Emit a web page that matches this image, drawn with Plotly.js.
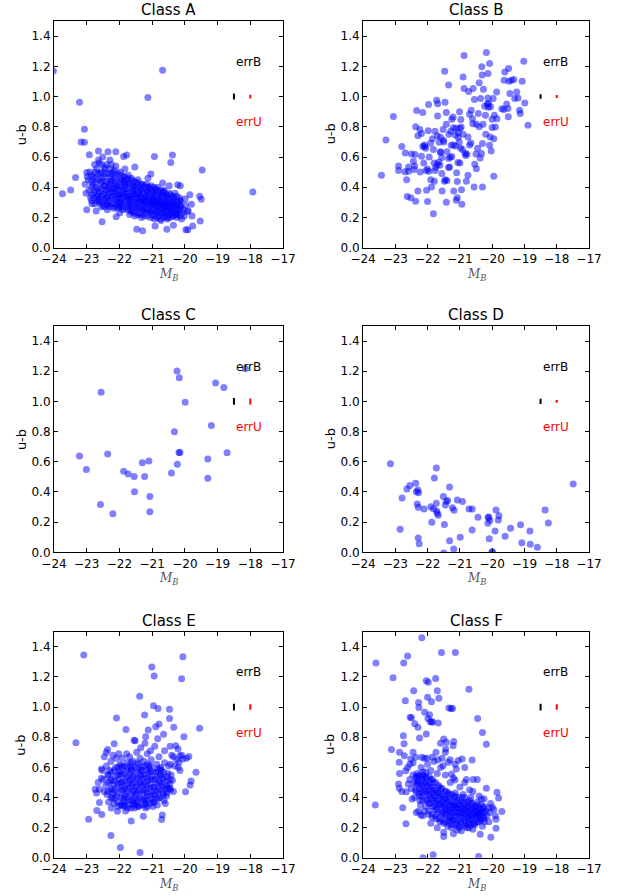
<html>
<head>
<script src="https://cdn.plot.ly/plotly-3.0.1.min.js"></script>
</head>
<body style="margin:0">
<div id="chart"></div>
<script>
// u-b colour versus absolute B magnitude for six classes of galaxies
var classNames = ['Class A', 'Class B', 'Class C', 'Class D', 'Class E', 'Class F'];

// typical error bars drawn at the upper right of each panel
var errB = [0.020, 0.015, 0.022, 0.017, 0.022, 0.022];
var errU = [0.012, 0.010, 0.020, 0.009, 0.018, 0.018];
var errBx = -18.5, errUx = -18.0, errY = 1.0;

var classA = [
  [-24.02,1.17],[-20.68,1.175],[-21.13,0.994],[-23.22,0.963],[-23.07,0.783],[-23.17,0.70],[-23.07,0.697],
  [-23.74,0.357],[-23.49,0.381],[-23.34,0.465],[-23.0,0.498],[-22.92,0.615],[-22.64,0.64],[-23.0,0.25],
  [-22.71,0.243],[-22.53,0.172],[-22.10,0.205],[-21.47,0.121],[-21.29,0.112],[-20.91,0.143],[-20.55,0.121],
  [-20.35,0.148],[-19.97,0.119],[-19.91,0.119],[-19.76,0.143],[-19.53,0.176],[-19.9,0.245],[-19.78,0.21],
  [-19.55,0.34],[-19.5,0.32],[-19.47,0.514],[-17.92,0.368],[-20.93,0.604],[-20.38,0.613],[-20.43,0.564],
  [-21.04,0.487],[-21.78,0.613],[-21.87,0.604],[-22.11,0.635],[-22.35,0.635],[-21.53,0.533],[-19.85,0.35],
  [-19.8,0.287],[-20.14,0.41],[-20.22,0.417],[-19.99,0.322],[-20.68,0.428],[-20.48,0.41],
  [-22.93,0.38],[-22.95,0.45],[-22.88,0.33],[-22.91,0.50],
  [-22.82,0.42],[-22.78,0.36],[-22.84,0.29],[-22.80,0.47],[-22.76,0.55],
  [-22.72,0.40],[-22.68,0.34],[-22.74,0.46],[-22.66,0.31],[-22.70,0.52],[-22.64,0.58],
  [-22.61,0.37],[-22.57,0.43],[-22.63,0.30],[-22.59,0.49],[-22.55,0.27],[-22.62,0.56],
  [-22.52,0.35],[-22.48,0.41],[-22.54,0.46],[-22.46,0.32],[-22.50,0.28],[-22.44,0.52],[-22.51,0.60],
  [-22.42,0.38],[-22.38,0.33],[-22.40,0.44],[-22.36,0.29],[-22.43,0.49],[-22.37,0.25],[-22.39,0.55],
  [-22.32,0.36],[-22.28,0.42],[-22.34,0.31],[-22.26,0.47],[-22.30,0.27],[-22.27,0.52],[-22.33,0.40],[-22.29,0.58],
  [-22.22,0.34],[-22.18,0.39],[-22.24,0.45],[-22.16,0.29],[-22.20,0.50],[-22.17,0.26],[-22.21,0.37],
  [-22.12,0.37],[-22.08,0.32],[-22.14,0.43],[-22.06,0.28],[-22.10,0.48],[-22.07,0.41],[-22.11,0.54],
  [-22.02,0.35],[-21.98,0.30],[-22.04,0.40],[-21.96,0.45],[-22.00,0.27],[-21.97,0.50],[-22.03,0.33],[-21.99,0.23],
  [-21.92,0.33],[-21.88,0.38],[-21.94,0.29],[-21.86,0.43],[-21.90,0.25],[-21.87,0.47],[-21.93,0.36],
  [-21.82,0.36],[-21.78,0.31],[-21.84,0.41],[-21.76,0.27],[-21.80,0.45],[-21.77,0.34],[-21.83,0.52],
  [-21.72,0.34],[-21.68,0.29],[-21.74,0.39],[-21.66,0.25],[-21.70,0.43],[-21.67,0.32],[-21.73,0.48],[-21.69,0.22],
  [-21.62,0.32],[-21.58,0.37],[-21.64,0.28],[-21.56,0.41],[-21.60,0.24],[-21.57,0.35],[-21.63,0.46],
  [-21.52,0.35],[-21.48,0.30],[-21.54,0.39],[-21.46,0.26],[-21.50,0.43],[-21.47,0.33],[-21.53,0.21],
  [-21.42,0.31],[-21.38,0.36],[-21.44,0.27],[-21.36,0.40],[-21.40,0.23],[-21.37,0.34],[-21.43,0.45],
  [-21.32,0.33],[-21.28,0.29],[-21.34,0.38],[-21.26,0.25],[-21.30,0.42],[-21.27,0.31],[-21.33,0.20],
  [-21.22,0.30],[-21.18,0.34],[-21.24,0.26],[-21.16,0.38],[-21.20,0.23],[-21.17,0.42],[-21.23,0.32],
  [-21.12,0.32],[-21.08,0.28],[-21.14,0.36],[-21.06,0.24],[-21.10,0.40],[-21.07,0.30],[-21.13,0.46],
  [-21.02,0.29],[-20.98,0.33],[-21.04,0.25],[-20.96,0.37],[-21.00,0.22],[-20.97,0.31],[-21.03,0.41],
  [-20.92,0.31],[-20.88,0.27],[-20.94,0.35],[-20.86,0.23],[-20.90,0.39],[-20.87,0.29],[-20.93,0.19],
  [-20.82,0.28],[-20.78,0.32],[-20.84,0.24],[-20.76,0.36],[-20.80,0.21],[-20.77,0.30],[-20.83,0.40],
  [-20.72,0.30],[-20.68,0.26],[-20.74,0.34],[-20.66,0.23],[-20.70,0.27],[-20.67,0.37],[-20.73,0.18],
  [-20.62,0.27],[-20.58,0.31],[-20.64,0.24],[-20.56,0.35],[-20.60,0.21],[-20.57,0.29],[-20.63,0.38],
  [-20.52,0.29],[-20.48,0.25],[-20.54,0.33],[-20.46,0.22],[-20.50,0.27],[-20.47,0.36],[-20.53,0.19],
  [-20.42,0.26],[-20.38,0.30],[-20.44,0.23],[-20.36,0.34],[-20.40,0.28],[-20.37,0.21],
  [-20.32,0.28],[-20.28,0.24],[-20.34,0.32],[-20.26,0.22],[-20.30,0.36],[-20.27,0.26],
  [-20.22,0.25],[-20.18,0.29],[-20.24,0.22],[-20.16,0.33],
  [-20.12,0.27],[-20.08,0.23],[-20.14,0.31],
  [-23.02,0.36],[-23.05,0.42],[-22.98,0.47],
  [-20.05,0.25],[-19.98,0.28],[-20.02,0.21],[-19.92,0.24],[-20.10,0.19]
];
// dense core of class A: [M_B, [u-b values ...]]
var coreA = [
  [-22.85,[0.31,0.35,0.40,0.44,0.48]],[-22.75,[0.29,0.33,0.38,0.43,0.50]],
  [-22.65,[0.32,0.35,0.39,0.45,0.49]],[-22.55,[0.30,0.34,0.39,0.44,0.50,0.55]],
  [-22.45,[0.27,0.31,0.36,0.41,0.47,0.53]],[-22.35,[0.28,0.34,0.38,0.43,0.49]],
  [-22.25,[0.29,0.33,0.39,0.44,0.49,0.55]],[-22.15,[0.27,0.32,0.36,0.41,0.46,0.51]],
  [-22.05,[0.26,0.30,0.35,0.39,0.44,0.49]],[-21.95,[0.27,0.31,0.35,0.40,0.44,0.48]],
  [-21.85,[0.26,0.30,0.34,0.39,0.43,0.47]],[-21.75,[0.25,0.29,0.33,0.37,0.42,0.46]],
  [-21.65,[0.24,0.28,0.33,0.37,0.41,0.45]],[-21.55,[0.23,0.27,0.31,0.36,0.40,0.44]],
  [-21.45,[0.22,0.26,0.30,0.35,0.39,0.43]],[-21.35,[0.22,0.26,0.30,0.34,0.38,0.42]],
  [-21.25,[0.21,0.25,0.29,0.33,0.37,0.41]],[-21.15,[0.21,0.25,0.29,0.33,0.37,0.40]],
  [-21.05,[0.20,0.24,0.28,0.32,0.36,0.39]],[-20.95,[0.21,0.25,0.28,0.32,0.36,0.40]],
  [-20.85,[0.20,0.24,0.27,0.31,0.35,0.38]],[-20.75,[0.19,0.23,0.27,0.30,0.34,0.38]],
  [-20.65,[0.20,0.23,0.27,0.30,0.34,0.37]],[-20.55,[0.20,0.24,0.27,0.31,0.34]],
  [-20.45,[0.20,0.24,0.27,0.31,0.35]],[-20.35,[0.21,0.24,0.27,0.30,0.33]],
  [-20.25,[0.20,0.23,0.27,0.30,0.34]],[-20.15,[0.21,0.25,0.28,0.31]]
];

var classB = [
  [-23.43,0.479],[-23.29,0.713],[-23.06,0.868],[-22.90,0.51],[-22.90,0.541],[-22.80,0.669],[-22.69,0.627],
  [-22.70,0.503],[-22.59,0.534],[-22.59,0.506],[-22.63,0.338],[-22.52,0.331],[-22.42,0.517],[-22.44,0.572],
  [-22.39,0.616],[-22.37,0.80],[-22.34,0.907],[-22.37,0.307],[-22.30,0.375],[-22.24,0.782],[-22.19,0.755],
  [-22.15,0.894],[-22.19,0.605],[-22.23,0.501],[-22.12,0.561],[-22.06,0.658],[-22.09,0.669],[-22.03,0.38],
  [-22.00,0.305],[-21.97,0.947],[-21.98,0.773],[-21.96,0.506],[-21.91,0.691],[-21.88,0.402],[-21.82,0.649],
  [-21.82,0.225],[-21.79,0.44],[-21.77,0.51],[-21.77,0.771],[-21.70,0.74],[-21.72,0.976],[-21.69,0.952],
  [-21.69,0.872],[-21.65,0.567],[-21.64,0.698],[-21.60,0.634],[-21.62,0.545],[-21.56,0.49],[-21.56,0.596],
  [-21.55,0.375],[-21.52,0.782],[-21.51,0.711],[-21.47,1.168],[-21.46,0.963],[-21.42,0.894],[-21.42,0.30],
  [-21.40,0.634],[-21.40,0.444],[-21.42,0.817],[-21.35,1.077],[-21.34,0.751],[-21.32,0.534],[-21.25,0.601],
  [-21.27,0.678],[-21.21,0.865],[-21.20,0.793],[-21.19,0.375],[-21.14,0.746],[-21.13,0.673],[-21.10,0.495],
  [-21.08,0.437],[-21.06,0.563],[-21.08,0.331],[-21.05,0.731],[-21.01,0.899],[-20.97,0.848],[-20.96,0.799],
  [-20.95,0.384],[-20.94,0.287],[-20.92,0.649],[-20.90,1.13],[-20.87,1.272],[-20.87,1.053],[-20.84,0.623],
  [-20.80,0.44],[-20.75,0.733],[-20.73,1.033],[-20.70,0.883],[-20.66,0.693],[-20.61,0.854],[-20.59,1.053],
  [-20.56,0.402],[-20.54,0.552],[-20.49,0.817],[-20.45,0.658],[-20.43,0.888],[-20.40,1.091],[-20.37,0.594],
  [-20.36,0.987],[-20.32,1.197],[-20.31,1.142],[-20.30,0.402],[-20.28,0.817],[-20.27,1.049],[-20.23,0.936],
  [-20.21,0.877],[-20.18,1.292],[-20.13,1.153],[-20.13,0.991],[-20.11,0.954],[-20.08,0.678],[-20.06,0.733],
  [-20.05,0.932],[-20.08,1.219],[-20.03,0.640],[-20.00,0.795],[-19.97,0.987],[-19.95,0.473],[-19.93,0.877],
  [-19.90,0.799],[-19.86,1.031],[-19.85,0.854],[-19.64,0.914],[-19.63,1.108],[-19.61,1.163],[-19.51,0.921],
  [-19.50,0.866],[-19.49,1.186],[-19.48,1.102],[-19.45,1.02],[-19.40,1.108],[-19.33,1.113],[-19.30,0.987],
  [-19.24,1.031],[-19.15,0.91],[-19.13,0.888],[-19.07,1.102],[-19.02,1.234],[-18.99,0.958],[-18.89,0.81],
  [-20.49,0.523],[-20.33,0.623],[-21.11,0.314],
  [-21.02,0.70],[-20.98,0.66],[-20.82,0.61],[-20.78,0.62],[-21.30,0.60],[-21.35,0.59],[-21.70,0.55],
  [-21.75,0.53],[-21.80,0.56],[-22.15,0.67],[-22.10,0.68],[-20.12,0.93],[-20.15,0.95],[-21.48,0.44],
  [-21.45,0.45],[-21.05,0.76],[-21.0,0.79],[-22.0,0.52],[-22.05,0.51],[-21.2,0.68],[-21.5,0.70],
  [-21.6,0.73],[-21.28,0.77],[-21.12,0.79],[-20.9,0.75],[-20.6,0.82],[-20.4,0.80],[-20.2,0.75],
  [-20.3,0.69],[-20.5,0.62],[-20.7,0.68],[-22.3,0.74],[-22.5,0.62],[-21.95,0.60],[-21.85,0.72],
  [-21.6,0.63],[-21.9,0.45],[-22.4,0.54],[-22.65,0.45],[-21.35,0.53],[-21.0,0.56],[-20.75,0.48],
  [-21.25,0.85],[-20.0,0.85],[-19.95,0.72],[-19.7,0.92],[-19.55,0.95],[-19.2,0.99],[-20.55,0.98],[-20.65,0.91]
];

var classC = [
  [-23.22,0.638],[-23.01,0.548],[-22.56,1.06],[-22.58,0.316],[-22.36,0.651],[-22.20,0.256],[-21.87,0.537],
  [-21.73,0.519],[-21.55,0.503],[-21.54,0.402],[-21.30,0.594],[-21.23,0.503],[-21.10,0.605],[-21.07,0.369],
  [-21.07,0.269],[-20.41,0.525],[-20.32,0.799],[-20.24,1.201],[-20.23,0.583],[-20.17,1.157],[-20.18,0.662],
  [-20.15,0.662],[-19.99,0.994],[-19.30,0.618],[-19.30,0.49],[-19.19,0.841],[-19.06,1.122],[-18.81,1.093],
  [-18.71,0.66],[-18.15,1.217]
];

var classD = [
  [-23.15,0.587],[-22.85,0.152],[-22.79,0.36],[-22.64,0.42],[-22.55,0.442],[-22.37,0.457],[-22.35,0.402],
  [-22.30,0.413],[-22.28,0.395],[-22.32,0.32],[-22.29,0.298],[-22.29,0.095],[-22.26,0.057],[-22.11,0.287],
  [-21.90,0.302],[-21.87,0.199],[-21.82,0.289],[-21.79,0.492],[-21.73,0.559],[-21.73,0.325],[-21.72,0.274],
  [-21.70,0.258],[-21.67,0.245],[-21.51,0.369],[-21.48,0.185],[-21.45,0.313],[-21.42,0.336],[-21.38,0.344],
  [-21.32,0.433],[-21.32,0.077],[-21.23,0.296],[-21.18,0.278],[-21.19,0.022],[-21.08,0.347],[-20.99,0.099],
  [-20.92,0.336],[-20.72,0.287],[-20.62,0.287],[-20.62,0.148],[-20.44,0.232],[-20.13,0.192],[-20.12,0.230],
  [-20.09,0.09],[-20.07,0.212],[-20.11,0.234],[-20.01,0.0],[-19.99,0.004],[-19.91,0.141],[-19.88,0.280],
  [-19.81,0.214],[-19.79,0.243],[-19.60,0.106],[-19.43,0.159],[-19.12,0.183],[-19.08,0.064],[-18.83,0.141],
  [-18.82,0.053],[-18.60,0.033],[-18.36,0.28],[-18.26,0.194],[-17.49,0.453],[-21.50,-0.005]
];

var classE = [
  [-23.09,1.345],[-23.33,0.764],[-22.94,0.256],[-22.69,0.314],[-22.26,0.148],[-21.97,0.068],[-21.37,0.035],
  [-21.01,1.265],[-20.94,1.206],[-21.38,1.071],[-20.96,1.009],[-20.82,0.991],[-21.23,0.947],[-22.09,0.927],
  [-20.06,1.334],[-20.10,1.188],[-20.47,0.985],[-20.47,0.925],[-20.34,0.866],[-19.55,0.859],[-21.80,0.852],
  [-21.12,0.848],[-20.79,0.888],[-20.89,0.87],[-20.65,0.82],[-20.03,0.804],[-22.16,0.757],[-22.36,0.718],
  [-22.46,0.671],[-22.55,0.590],[-22.55,0.528],[-22.61,0.455],[-22.74,0.455],[-22.61,0.367],[-22.54,0.287],
  [-19.66,0.567],[-19.81,0.51],[-19.84,0.484],[-19.98,0.439],[-19.88,0.673],[-20.44,0.45],[-20.38,0.514],
  [-20.69,0.285],[-20.71,0.254],[-21.64,0.245],[-21.57,0.364],[-21.27,0.276],[-22.06,0.309],[-21.94,0.351],
  [-21.52,0.777],[-21.20,0.804],[-20.28,0.744],[-20.21,0.722],[-20.18,0.634],[-20.06,0.656],[-20.15,0.678],
  [-22.42,0.48],[-22.38,0.42],[-22.35,0.55],[-22.40,0.61],[-22.33,0.37],
  [-22.28,0.51],[-22.24,0.45],[-22.30,0.58],[-22.22,0.40],[-22.26,0.64],
  [-22.18,0.49],[-22.14,0.54],[-22.20,0.43],[-22.12,0.60],[-22.16,0.36],[-22.10,0.66],
  [-22.05,0.47],[-22.02,0.52],[-22.08,0.41],[-22.00,0.57],[-22.04,0.34],[-21.98,0.62],
  [-21.94,0.50],[-21.90,0.45],[-21.96,0.55],[-21.88,0.39],[-21.92,0.60],[-21.86,0.34],[-21.91,0.66],
  [-21.84,0.48],[-21.80,0.53],[-21.82,0.42],[-21.78,0.58],[-21.85,0.37],[-21.76,0.63],[-21.81,0.31],
  [-21.72,0.46],[-21.68,0.51],[-21.74,0.40],[-21.66,0.56],[-21.70,0.35],[-21.64,0.61],[-21.69,0.67],
  [-21.62,0.49],[-21.58,0.44],[-21.60,0.54],[-21.56,0.38],[-21.63,0.59],[-21.54,0.33],[-21.59,0.64],
  [-21.50,0.47],[-21.46,0.52],[-21.52,0.42],[-21.44,0.57],[-21.48,0.36],[-21.42,0.62],[-21.47,0.70],
  [-21.40,0.45],[-21.36,0.50],[-21.38,0.40],[-21.34,0.55],[-21.41,0.34],[-21.32,0.60],[-21.37,0.66],
  [-21.28,0.48],[-21.24,0.43],[-21.26,0.53],[-21.22,0.38],[-21.30,0.58],[-21.20,0.33],[-21.25,0.64],
  [-21.18,0.46],[-21.14,0.51],[-21.16,0.41],[-21.12,0.56],[-21.19,0.36],[-21.10,0.61],[-21.15,0.69],
  [-21.06,0.49],[-21.02,0.44],[-21.04,0.54],[-21.00,0.39],[-21.08,0.59],[-20.98,0.34],[-21.03,0.65],
  [-20.94,0.47],[-20.90,0.52],[-20.92,0.42],[-20.88,0.57],[-20.95,0.37],[-20.86,0.62],
  [-20.82,0.45],[-20.78,0.50],[-20.80,0.40],[-20.76,0.55],[-20.84,0.35],[-20.74,0.60],[-20.79,0.67],
  [-20.70,0.48],[-20.66,0.43],[-20.68,0.53],[-20.64,0.38],[-20.72,0.58],[-20.62,0.63],
  [-20.58,0.46],[-20.54,0.51],[-20.56,0.41],[-20.52,0.56],[-20.60,0.36],[-20.50,0.61],
  [-20.46,0.49],[-20.42,0.55],[-20.44,0.62],[-20.40,0.68],
  [-22.50,0.52],[-22.46,0.44],[-22.52,0.58],
  [-21.55,0.78],[-21.35,0.73],[-21.05,0.71],[-20.83,0.79],[-20.62,0.71],[-20.35,0.67],[-20.25,0.65],
  [-22.02,0.69],[-21.78,0.69],[-21.22,0.76],[-20.92,0.74],[-20.45,0.74],[-20.2,0.60],[-20.15,0.58],
  [-20.1,0.68],[-19.95,0.66],[-20.3,0.61],[-20.5,0.46],[-20.35,0.44],[-22.65,0.50],[-22.7,0.43],
  [-22.4,0.70],[-22.2,0.68],[-22.25,0.33]
];
var coreE = [
  [-22.35,[0.44,0.50,0.55]],[-22.25,[0.40,0.46,0.52,0.57]],
  [-22.15,[0.39,0.45,0.51,0.58]],[-22.05,[0.37,0.43,0.49,0.55,0.60]],
  [-21.95,[0.35,0.40,0.45,0.50,0.56,0.61]],[-21.85,[0.35,0.41,0.46,0.51,0.56,0.61]],
  [-21.75,[0.33,0.38,0.44,0.49,0.54,0.60]],[-21.65,[0.33,0.38,0.42,0.47,0.52,0.58,0.63]],
  [-21.55,[0.35,0.40,0.45,0.50,0.55,0.60]],[-21.45,[0.34,0.38,0.43,0.48,0.53,0.59,0.63]],
  [-21.35,[0.35,0.39,0.44,0.49,0.54,0.58]],[-21.25,[0.35,0.39,0.45,0.50,0.55,0.61]],
  [-21.15,[0.34,0.38,0.43,0.48,0.53,0.58,0.62]],[-21.05,[0.36,0.41,0.46,0.52,0.57,0.61]],
  [-20.95,[0.37,0.42,0.47,0.52,0.57]],[-20.85,[0.39,0.44,0.49,0.54,0.59]],
  [-20.75,[0.40,0.45,0.50,0.55,0.59]],[-20.65,[0.42,0.47,0.52,0.57]],
  [-20.55,[0.43,0.48,0.54]],[-20.45,[0.46,0.52]]
];

var classF = [
  [-23.60,1.292],[-23.62,0.351],[-23.07,1.195],[-23.12,0.718],[-22.74,1.292],[-22.62,1.338],[-22.69,1.042],
  [-22.77,0.333],[-22.67,0.227],[-22.88,0.634],[-22.87,0.70],[-22.75,0.81],[-22.73,0.756],[-22.54,0.932],
  [-22.43,1.108],[-22.40,0.889],[-22.30,0.866],[-22.28,1.031],[-22.27,0.998],[-22.25,0.795],[-22.18,1.46],
  [-22.09,0.965],[-22.04,1.175],[-22.04,0.821],[-22.00,1.066],[-21.98,1.164],[-21.94,0.949],[-21.99,0.925],
  [-21.88,1.036],[-21.85,0.899],[-21.92,0.903],[-21.75,1.19],[-21.70,1.108],[-21.65,1.058],[-21.67,0.894],
  [-21.57,1.362],[-21.50,0.788],[-21.42,0.766],[-21.34,0.994],[-21.23,0.991],[-21.21,0.744],[-21.14,1.362],
  [-21.19,0.771],[-20.72,1.119],[-20.45,0.925],[-20.30,0.832],[-20.18,0.753],[-20.62,0.649],[-20.93,0.656],
  [-20.85,0.60],[-21.83,0.02],[-22.14,0.0],[-20.42,0.009],[-21.50,0.141],[-20.04,0.137],[-19.85,0.435],
  [-19.80,0.397],[-19.70,0.307],[-20.0,0.336],[-19.88,0.256],[-19.88,0.196],[-20.37,0.157],[-20.72,0.199],
  [-21.08,0.185],[-21.32,0.247],[-20.18,0.461],[-20.33,0.39],[-22.28,0.309],[-22.21,0.285],[-22.90,0.49],
  [-22.88,0.461],[-22.87,0.56],[-22.68,0.578],[-22.72,0.678],[-22.66,0.439],[-22.52,0.656],[-22.37,0.667],
  [-22.45,0.70],[-22.18,0.667],[-22.02,0.66],[-21.85,0.667],[-21.74,0.70],[-21.68,0.651],[-21.52,0.611],
  [-21.36,0.634],[-21.44,0.722],[-21.26,0.556],[-21.15,0.517],[-21.11,0.59],[-21.05,0.645],[-20.80,0.519],
  [-20.59,0.519],[-20.46,0.519],[-21.27,0.99],[-21.87,0.905],[-22.50,0.93],
  [-22.42,0.50],[-22.38,0.45],[-22.35,0.53],[-22.40,0.40],[-22.33,0.56],
  [-22.30,0.49],[-22.26,0.43],[-22.28,0.54],[-22.24,0.38],[-22.31,0.51],
  [-22.20,0.47],[-22.16,0.52],[-22.18,0.41],[-22.14,0.55],[-22.22,0.35],[-22.12,0.45],
  [-22.08,0.50],[-22.04,0.44],[-22.06,0.54],[-22.02,0.38],[-22.10,0.31],[-22.00,0.48],
  [-21.96,0.42],[-21.92,0.47],[-21.94,0.36],[-21.90,0.52],[-21.98,0.29],[-21.88,0.40],
  [-21.84,0.45],[-21.80,0.39],[-21.82,0.50],[-21.78,0.34],[-21.86,0.27],[-21.76,0.43],
  [-21.72,0.38],[-21.68,0.43],[-21.70,0.32],[-21.66,0.48],[-21.74,0.26],[-21.64,0.36],
  [-21.60,0.41],[-21.56,0.35],[-21.58,0.46],[-21.54,0.30],[-21.62,0.24],[-21.52,0.39],
  [-21.48,0.34],[-21.44,0.39],[-21.46,0.29],[-21.42,0.44],[-21.50,0.23],[-21.40,0.32],
  [-21.36,0.37],[-21.32,0.31],[-21.34,0.42],[-21.30,0.27],[-21.38,0.21],[-21.28,0.35],
  [-21.24,0.30],[-21.20,0.35],[-21.22,0.25],[-21.18,0.40],[-21.26,0.20],[-21.16,0.33],
  [-21.12,0.28],[-21.08,0.33],[-21.10,0.23],[-21.06,0.38],[-21.14,0.43],[-21.04,0.30],
  [-21.00,0.35],[-20.96,0.29],[-20.98,0.24],[-20.94,0.40],[-21.02,0.20],[-20.92,0.32],
  [-20.88,0.27],[-20.84,0.32],[-20.86,0.37],[-20.82,0.23],[-20.90,0.42],[-20.80,0.29],
  [-20.76,0.34],[-20.72,0.28],[-20.74,0.24],[-20.70,0.38],[-20.78,0.20],[-20.68,0.31],
  [-20.64,0.26],[-20.60,0.32],[-20.62,0.36],[-20.58,0.23],[-20.66,0.40],[-20.56,0.29],
  [-20.52,0.34],[-20.48,0.27],[-20.50,0.31],[-20.46,0.37],[-20.54,0.22],[-20.44,0.29],
  [-20.40,0.33],[-20.36,0.26],[-20.38,0.30],[-20.34,0.35],[-20.42,0.24],
  [-20.30,0.30],[-20.26,0.27],[-20.28,0.33],[-20.24,0.24],
  [-20.20,0.31],[-20.16,0.28],[-20.12,0.33],[-20.08,0.30],
  [-22.50,0.46],[-22.55,0.52],[-22.48,0.39],[-22.60,0.49],[-22.45,0.55],
  [-22.62,0.60],[-22.55,0.62],[-22.45,0.63],[-22.2,0.60],[-22.0,0.62],[-21.9,0.58],[-21.7,0.56],
  [-21.6,0.60],[-21.45,0.55],[-21.3,0.50],[-21.2,0.53],[-21.0,0.47],[-20.85,0.50],[-20.7,0.45],
  [-20.6,0.44],[-20.4,0.41],[-20.25,0.39],[-22.8,0.44],[-22.35,0.30],[-22.15,0.28],[-21.9,0.23],
  [-21.7,0.20],[-21.5,0.17],[-21.2,0.16],[-20.95,0.18],[-20.6,0.19],[-20.3,0.21],[-20.1,0.24],
  [-20.05,0.36],[-19.95,0.32],[-19.9,0.28],[-21.6,0.76],[-21.45,0.70],[-21.8,0.64],[-22.1,0.66],
  [-21.55,0.66],[-21.3,0.65],[-21.15,0.62]
];
var coreF = [
  [-22.35,[0.44,0.49,0.54]],[-22.25,[0.41,0.46,0.50,0.55]],
  [-22.15,[0.38,0.43,0.48,0.53,0.57]],[-22.05,[0.34,0.39,0.44,0.49,0.53,0.57]],
  [-21.95,[0.31,0.36,0.41,0.45,0.50,0.54]],[-21.85,[0.29,0.34,0.38,0.43,0.47,0.52]],
  [-21.75,[0.28,0.32,0.36,0.41,0.45,0.50]],[-21.65,[0.26,0.30,0.35,0.39,0.43,0.47]],
  [-21.55,[0.25,0.29,0.33,0.37,0.42,0.46]],[-21.45,[0.24,0.28,0.32,0.36,0.40,0.44]],
  [-21.35,[0.23,0.27,0.31,0.35,0.39,0.43]],[-21.25,[0.22,0.26,0.30,0.34,0.38,0.42]],
  [-21.15,[0.22,0.26,0.30,0.34,0.37,0.41]],[-21.05,[0.21,0.25,0.29,0.33,0.36,0.40]],
  [-20.95,[0.22,0.26,0.30,0.33,0.37]],[-20.85,[0.21,0.25,0.29,0.33,0.36,0.40]],
  [-20.75,[0.22,0.26,0.30,0.33,0.37]],[-20.65,[0.22,0.26,0.29,0.33,0.36]],
  [-20.55,[0.23,0.27,0.30,0.34]],[-20.45,[0.24,0.28,0.31,0.35]],
  [-20.35,[0.25,0.29,0.32]],[-20.25,[0.26,0.30,0.34]]
];

// unfold a core table into [x, y] pairs
function unfold(core) {
  var out = [];
  core.forEach(function (col) {
    col[1].forEach(function (v) { out.push([col[0], v]); });
  });
  return out;
}

var allClasses = [
  classA.concat(unfold(coreA)), classB, classC, classD,
  classE.concat(unfold(coreE)), classF.concat(unfold(coreF))
];

// panel placement (paper fractions) to match the 3x2 grid
var colDom = [[0.0861, 0.4514], [0.5790, 0.9394]];
var rowDom = [[0.7233, 0.9765], [0.3829, 0.6358], [0.0415, 0.2942]];

var tickFont = {family: 'DejaVu Sans', size: 12, color: '#000'};
var data = [];
var layout = {
  width: 627, height: 895,
  margin: {l: 0, r: 0, t: 0, b: 0},
  paper_bgcolor: '#fff', plot_bgcolor: '#fff',
  showlegend: false,
  annotations: []
};

for (var i = 0; i < 6; i++) {
  var sfx = i === 0 ? '' : String(i + 1);
  var xa = 'x' + sfx, ya = 'y' + sfx;
  var pts = allClasses[i];

  data.push({
    x: pts.map(function (p) { return p[0]; }),
    y: pts.map(function (p) { return p[1]; }),
    xaxis: xa, yaxis: ya,
    type: 'scatter', mode: 'markers', hoverinfo: 'skip',
    marker: {color: '#0000ff', opacity: 0.5, size: 7, line: {width: 0}}
  });
  data.push({
    x: [errBx], y: [errY], xaxis: xa, yaxis: ya,
    type: 'scatter', mode: 'markers', marker: {size: 1, color: 'rgba(0,0,0,0)'},
    error_y: {type: 'data', array: [errB[i]], visible: true, color: '#000', thickness: 2, width: 0}
  });
  data.push({
    x: [errUx], y: [errY], xaxis: xa, yaxis: ya,
    type: 'scatter', mode: 'markers', marker: {size: 1, color: 'rgba(0,0,0,0)'},
    error_y: {type: 'data', array: [errU[i]], visible: true, color: '#ff0000', thickness: 2, width: 0}
  });

  var common = {
    showline: true, linecolor: '#000', linewidth: 1, mirror: 'allticks',
    ticks: 'inside', ticklen: 4, tickwidth: 1, tickcolor: '#000',
    showgrid: false, zeroline: false, tickfont: tickFont, automargin: false
  };
  layout['xaxis' + sfx] = Object.assign({}, common, {
    domain: colDom[i % 2], anchor: ya, range: [-24, -17], dtick: 1, tick0: -24
  });
  layout['yaxis' + sfx] = Object.assign({}, common, {
    domain: rowDom[Math.floor(i / 2)], anchor: xa, range: [0, 1.5], dtick: 0.2, tick0: 0,
    tickformat: '.1f'
  });

  var xd = xa + ' domain', yd = ya + ' domain';
  layout.annotations.push(
    {text: classNames[i], xref: xd, yref: yd, x: 0.5, y: 1, xanchor: 'center', yanchor: 'bottom',
     showarrow: false, font: {family: 'DejaVu Sans', size: 15, color: '#000'}},
    {text: 'u-b', xref: xd, yref: yd, x: 0, y: 0.5, xshift: -33, textangle: -90,
     xanchor: 'center', yanchor: 'middle', showarrow: false,
     font: {family: 'DejaVu Sans', size: 13, color: '#000'}},
    {text: '<i>M</i><sub><i>B</i></sub>', xref: xd, yref: yd, x: 0.5, y: 0, yshift: -27,
     xanchor: 'center', yanchor: 'middle', showarrow: false, borderpad: 0,
     font: {family: 'DejaVu Serif', size: 12, color: '#555'}},
    {text: 'errB', xref: xa, yref: ya, x: errBx, y: 1.23, xanchor: 'left', yanchor: 'middle',
     showarrow: false, font: {family: 'DejaVu Sans', size: 12, color: '#000'}},
    {text: 'errU', xref: xa, yref: ya, x: errBx, y: 0.83, xanchor: 'left', yanchor: 'middle',
     showarrow: false, font: {family: 'DejaVu Sans', size: 12, color: '#ff0000'}}
  );
}

Plotly.newPlot('chart', data, layout, {staticPlot: true});
</script>
</body>
</html>
